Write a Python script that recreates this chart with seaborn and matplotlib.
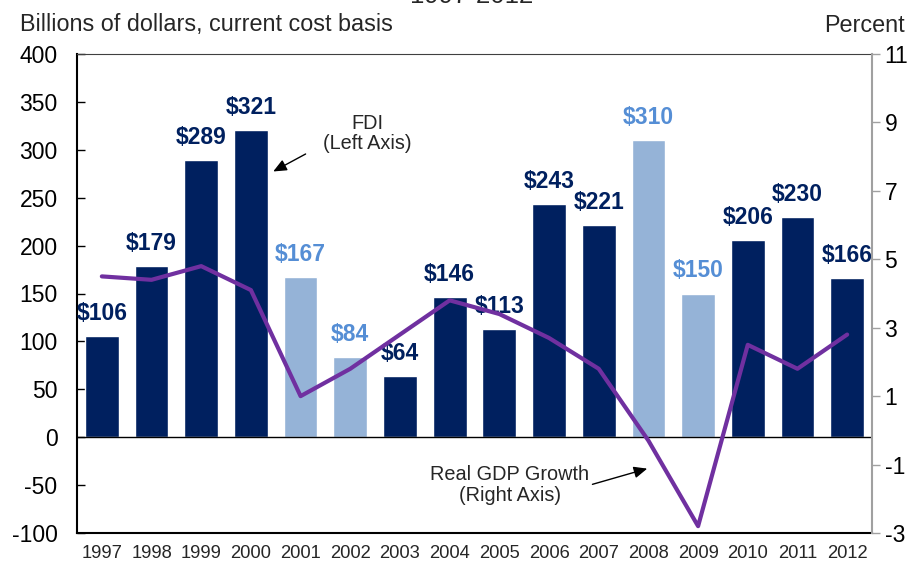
import numpy as np
import pandas as pd
import matplotlib
matplotlib.use("Agg")
import matplotlib.pyplot as plt
import seaborn as sns

sns.set_style("white")
plt.rcParams["font.family"] = ["Liberation Sans", "DejaVu Sans"]
plt.rcParams["axes.unicode_minus"] = False

years = ["1997", "1998", "1999", "2000", "2001", "2002", "2003", "2004",
         "2005", "2006", "2007", "2008", "2009", "2010", "2011", "2012"]
fdi = [106, 179, 289, 321, 167, 84, 64, 146, 113, 243, 221, 310, 150, 206, 230, 166]
gdp = [4.5, 4.4, 4.8, 4.1, 1.0, 1.8, 2.8, 3.8, 3.4, 2.7, 1.8, -0.3, -2.8, 2.5, 1.8, 2.8]
light_years = ["2001", "2002", "2008", "2009"]

dark = "#00205F"
light = "#95B3D7"
light_txt = "#558ED5"
purple = "#7030A0"

df = pd.DataFrame({"year": years, "fdi": fdi, "gdp": gdp})
df["light"] = df["year"].isin(light_years)
bar_colors = [light if l else dark for l in df["light"]]

fig = plt.figure(figsize=(9.15, 5.65), dpi=100)
ax = fig.add_axes([77 / 915, 1 - 533 / 565, (872 - 77) / 915, (533 - 54) / 565])

sns.barplot(data=df, x="year", y="fdi", hue="year", palette=bar_colors,
            legend=False, width=0.68, saturation=1, ax=ax)
ax.set_ylim(-100, 400)
ax.set_xlim(-0.5, len(years) - 0.5)
ax.set_yticks(np.arange(-100, 401, 50))
ax.set_xlabel("")
ax.set_ylabel("")
ax.axhline(0, color="black", lw=1)
ax.tick_params(axis="y", direction="in", length=6, width=1, colors="black", labelsize=16.5, pad=14)
ax.tick_params(axis="x", length=0, labelsize=13.2, pad=9)
for s in ["left", "bottom"]:
    ax.spines[s].set_color("black")
    ax.spines[s].set_linewidth(1.5)
ax.spines["top"].set_color("#404040")
ax.spines["right"].set_visible(False)

for i, (v, l) in enumerate(zip(df["fdi"], df["light"])):
    ax.annotate(f"${v}", (i, v), xytext=(0, 8), textcoords="offset points",
                ha="center", va="bottom", fontsize=16.5, fontweight="bold",
                color=light_txt if l else dark)

ax2 = ax.twinx()
sns.lineplot(x=np.arange(len(years)), y=df["gdp"], color=purple, lw=3, ax=ax2)
ax2.set_ylim(-3, 11)
ax2.set_yticks(np.arange(-3, 12, 2))
ax2.set_ylabel("")
ax2.tick_params(axis="y", direction="out", length=6, width=1, color="#A0A0A0",
                labelcolor="black", labelsize=16.5, pad=3)
ax2.spines["right"].set_color("#A0A0A0")
ax2.spines["right"].set_linewidth(1.5)
for s in ["left", "top", "bottom"]:
    ax2.spines[s].set_visible(False)

# annotations
ax.text(5.34, 317, "FDI\n(Left Axis)", ha="center", va="center", fontsize=14.3, linespacing=1.1)
ax.annotate("", xy=(3.40, 276), xytext=(4.15, 297),
            arrowprops=dict(arrowstyle="-|>,head_length=0.8,head_width=0.35", color="black", lw=1))
ax.text(8.21, -50, "Real GDP Growth\n(Right Axis)", ha="center", va="center", fontsize=14.3, linespacing=1.1)
ax.annotate("", xy=(11.03, -32), xytext=(9.82, -50),
            arrowprops=dict(arrowstyle="-|>,head_length=0.8,head_width=0.35", color="black", lw=1))

fig.text(20 / 915, 1 - 25 / 565, "Billions of dollars, current cost basis", ha="left", va="center", fontsize=16.8)
fig.text(905 / 915, 1 - 25 / 565, "Percent", ha="right", va="center", fontsize=16.8)
fig.text(472 / 915, 1 - 8 / 565, "1997-2012", ha="center", va="bottom", fontsize=18.5)

fig.savefig("out.png", dpi=100)
